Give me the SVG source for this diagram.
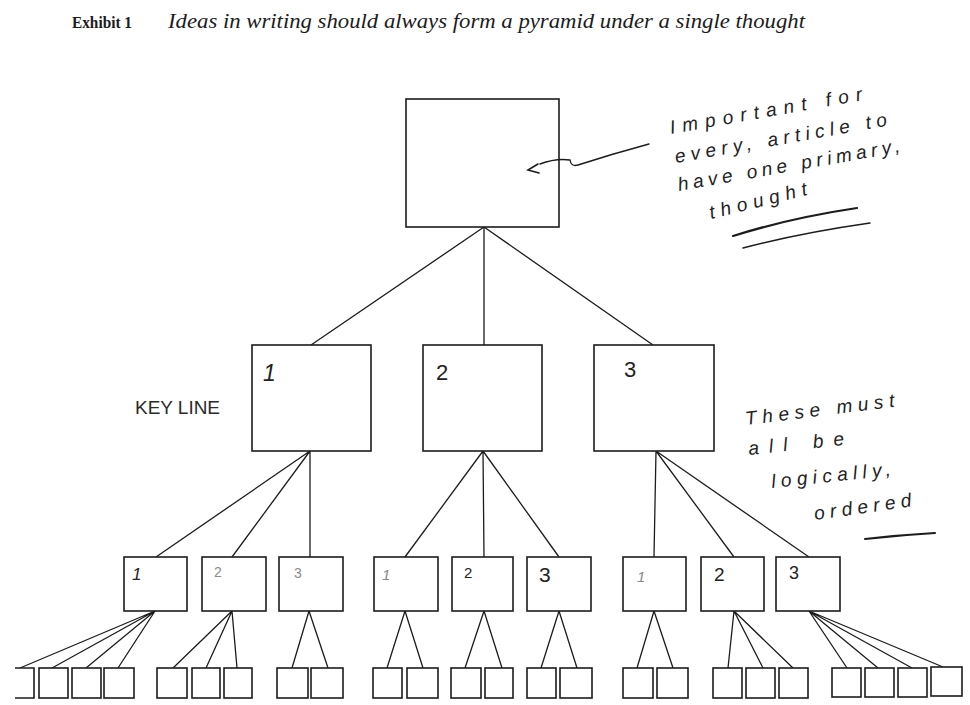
<svg xmlns="http://www.w3.org/2000/svg" width="970" height="705" viewBox="0 0 970 705">
<style>
  .box{fill:#fff;stroke:#1c1c1c;stroke-width:1.6}
  .edge{fill:none;stroke:#1c1c1c;stroke-width:1.3}
  .hand{font-family:"Liberation Sans","DejaVu Sans",sans-serif;font-style:italic;fill:#222;font-size:19px}
  .num{font-family:"Liberation Sans","DejaVu Sans",sans-serif;fill:#222}
  .faint{fill:#8a8a8a}
  .ink{fill:none;stroke:#1c1c1c;stroke-linecap:round}
</style>
<rect width="970" height="705" fill="#fff"/>

<g id="title">
  <text x="72" y="28" font-family="'Liberation Serif',serif" font-size="16" font-weight="bold" fill="#1c1c1c" textLength="60" lengthAdjust="spacingAndGlyphs">Exhibit 1</text>
  <text x="168" y="28" font-family="'Liberation Serif',serif" font-size="22" font-style="italic" fill="#1c1c1c" textLength="637" lengthAdjust="spacingAndGlyphs">Ideas in writing should always form a pyramid under a single thought</text>
</g>

<g id="connectors">
  <path class="edge" d="M484 227L311 345M484 227L484 345M484 227L653 345"/>
  <path class="edge" d="M310 451L156 557M310 451L232 557M310 451L310 557"/>
  <path class="edge" d="M483 451L405 557M483 451L484 557M483 451L559 557"/>
  <path class="edge" d="M656 451L654 557M656 451L734 557M656 451L809 557"/>
  <path class="edge" d="M155 611L20 668M155 611L52 668M155 611L86 668M155 611L118 668"/>
  <path class="edge" d="M232 611L173 668M232 611L206 668M232 611L237 668"/>
  <path class="edge" d="M309 611L292 668M309 611L328 668"/>
  <path class="edge" d="M405 611L387 668M405 611L423 668"/>
  <path class="edge" d="M484 611L465 668M484 611L502 668"/>
  <path class="edge" d="M559 611L541 668M559 611L577 668"/>
  <path class="edge" d="M654 611L637 668M654 611L673 668"/>
  <path class="edge" d="M734 611L728 668M734 611L763 668M734 611L793 668"/>
  <path class="edge" d="M809 611L847 668M809 611L878 668M809 611L912 668M809 611L943 667"/>
</g>

<g id="top"><rect class="box" x="406" y="99" width="153" height="128"/></g>

<g id="key1"><rect class="box" x="252" y="345" width="119" height="106"/><text class="num" x="263" y="381" font-size="23" font-style="italic">1</text></g>
<g id="key2"><rect class="box" x="423" y="345" width="119" height="106"/><text class="num" x="436" y="380" font-size="22">2</text></g>
<g id="key3"><rect class="box" x="594" y="345" width="120" height="106"/><text class="num" x="624" y="377" font-size="22">3</text></g>

<g id="keyline"><text x="135" y="414" font-family="'Liberation Sans',sans-serif" font-size="19" fill="#2a2a2a" textLength="85" lengthAdjust="spacingAndGlyphs">KEY LINE</text></g>

<g id="s1-1"><rect class="box" x="124" y="557" width="63" height="54"/><text class="num" x="132" y="580" font-size="17" font-style="italic">1</text></g>
<g id="s1-2"><rect class="box" x="202" y="557" width="64" height="54"/><text class="num faint" x="214" y="577" font-size="14">2</text></g>
<g id="s1-3"><rect class="box" x="279" y="557" width="64" height="54"/><text class="num faint" x="294" y="578" font-size="14">3</text></g>
<g id="s2-1"><rect class="box" x="374" y="557" width="64" height="54"/><text class="num faint" x="382" y="580" font-size="15" font-style="italic">1</text></g>
<g id="s2-2"><rect class="box" x="452" y="557" width="61" height="54"/><text class="num" x="464" y="578" font-size="15">2</text></g>
<g id="s2-3"><rect class="box" x="527" y="557" width="64" height="54"/><text class="num" x="539" y="582" font-size="21">3</text></g>
<g id="s3-1"><rect class="box" x="623" y="557" width="63" height="54"/><text class="num faint" x="637" y="582" font-size="15" font-style="italic">1</text></g>
<g id="s3-2"><rect class="box" x="701" y="557" width="63" height="54"/><text class="num" x="714" y="581" font-size="19">2</text></g>
<g id="s3-3"><rect class="box" x="776" y="557" width="64" height="54"/><text class="num" x="789" y="579" font-size="18">3</text></g>

<g id="leaves">
  <path class="box" d="M15 668H34V698H15" fill="none"/>
  <rect class="box" x="39" y="668" width="29" height="30"/>
  <rect class="box" x="72" y="668" width="29" height="30"/>
  <rect class="box" x="104" y="668" width="30" height="30"/>
  <rect class="box" x="157" y="668" width="30" height="30"/>
  <rect class="box" x="192" y="668" width="28" height="30"/>
  <rect class="box" x="224" y="668" width="28" height="30"/>
  <rect class="box" x="277" y="668" width="31" height="30"/>
  <rect class="box" x="311" y="668" width="32" height="30"/>
  <rect class="box" x="373" y="668" width="29" height="30"/>
  <rect class="box" x="407" y="668" width="31" height="30"/>
  <rect class="box" x="451" y="668" width="30" height="30"/>
  <rect class="box" x="485" y="668" width="28" height="30"/>
  <rect class="box" x="527" y="668" width="29" height="30"/>
  <rect class="box" x="560" y="668" width="32" height="30"/>
  <rect class="box" x="623" y="668" width="30" height="30"/>
  <rect class="box" x="657" y="668" width="31" height="30"/>
  <rect class="box" x="713" y="668" width="29" height="30"/>
  <rect class="box" x="746" y="668" width="29" height="30"/>
  <rect class="box" x="779" y="668" width="29" height="30"/>
  <rect class="box" x="832" y="668" width="29" height="29"/>
  <rect class="box" x="865" y="668" width="29" height="29"/>
  <rect class="box" x="898" y="668" width="29" height="29"/>
  <rect class="box" x="931" y="667" width="31" height="29"/>
</g>

<g id="note-top">
  <path class="ink" stroke-width="1.4" d="M649 144Q612 154 578 165Q571 167 570 160Q556 158 540 164"/>
  <path class="ink" stroke-width="1.6" d="M538 164L528 170L539 173"/>
  <text class="hand" transform="translate(671 134) rotate(-10)" textLength="195" lengthAdjust="spacing">Important   for</text>
  <text class="hand" transform="translate(676 163) rotate(-10)" textLength="215" lengthAdjust="spacing">every,  article  to</text>
  <text class="hand" transform="translate(679 191) rotate(-10)" textLength="225" lengthAdjust="spacing">have   one   primary,</text>
  <text class="hand" transform="translate(711 219) rotate(-14)" textLength="100" lengthAdjust="spacing">thought</text>
  <path class="ink" stroke-width="2.2" d="M733 236Q790 218 857 208"/>
  <path class="ink" stroke-width="1.5" d="M743 248Q800 233 870 223"/>
</g>

<g id="note-right">
  <text class="hand" transform="translate(746 425) rotate(-7)" textLength="150" lengthAdjust="spacing">These  must</text>
  <text class="hand" transform="translate(749 455) rotate(-6)" textLength="96" lengthAdjust="spacing">all  be</text>
  <text class="hand" transform="translate(772 488) rotate(-6)" textLength="120" lengthAdjust="spacing">logically,</text>
  <text class="hand" transform="translate(815 520) rotate(-8)" textLength="98" lengthAdjust="spacing">ordered</text>
  <path class="ink" stroke-width="2" d="M865 539Q900 535 935 533"/>
</g>
</svg>
